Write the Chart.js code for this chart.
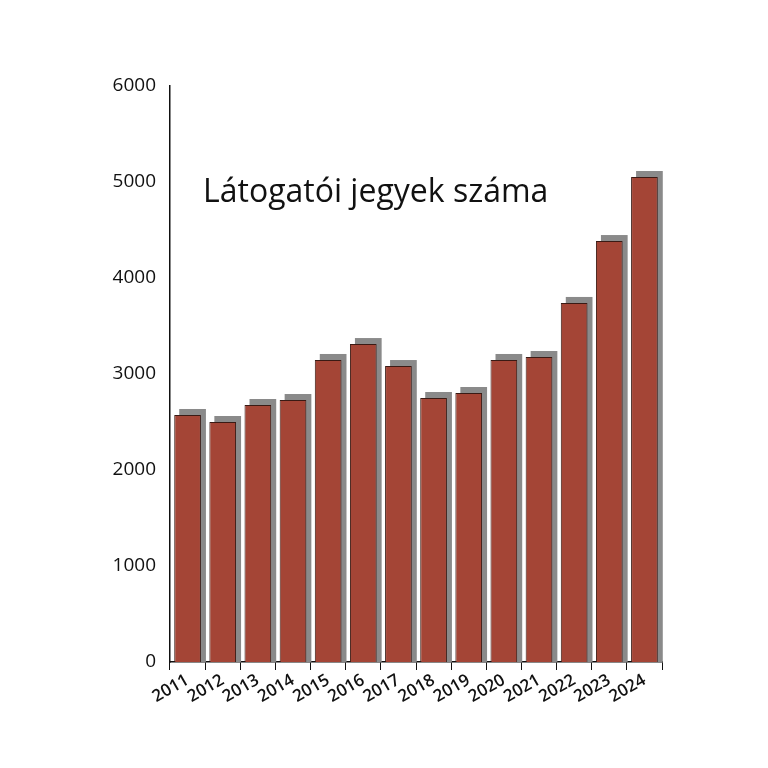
<!DOCTYPE html>
<html><head><meta charset="utf-8">
<script src="https://cdn.jsdelivr.net/npm/chart.js@4"></script>
<style>html,body{margin:0;background:#fff}#w{width:768px;height:768px}</style>
</head><body><div id="w"><canvas id="c"></canvas></div>
<script>
const years=["2011","2012","2013","2014","2015","2016","2017","2018","2019","2020","2021","2022","2023","2024"];
const tickets=[2573,2500,2677,2729,3146,3312,3083,2750,2802,3146,3177,3740,4385,5052];
const title="Látogatói jegyek száma";
const shadow={id:'shadow',
 beforeDatasetsDraw(c){const x=c.ctx;x.save();x.fillStyle='#8a8a8a';
  c.getDatasetMeta(0).data.forEach(b=>{const w=b.width;x.fillRect(b.x-w/2+5,b.y-6,w,b.base-(b.y-6));});x.restore();},
 afterDraw(c){const x=c.ctx;x.save();x.font='32px "Open Sans"';x.fillStyle='#111';x.textBaseline='middle';x.fillText(title,203,193);x.restore();}};
new Chart(document.getElementById('c'),{type:'bar',
 data:{labels:years,datasets:[{data:tickets,backgroundColor:'#a44536',borderColor:'#3a1a14',borderWidth:1,barPercentage:0.76,categoryPercentage:1}]},
 options:{responsive:true,maintainAspectRatio:false,animation:false,
  layout:{padding:{top:86,right:106,left:0,bottom:0}},
  plugins:{legend:{display:false},tooltip:{enabled:false}},
  scales:{
   y:{min:0,max:6000,ticks:{stepSize:1000,color:'#111',font:{family:'Open Sans',size:19},padding:6,callback:v=>String(v)},
      grid:{display:false,drawTicks:true,tickLength:8,tickColor:'#111'},border:{color:'#111',width:1.5},
      afterFit(s){s.width=170;}},
   x:{ticks:{color:'#111',font:{family:'Open Sans',size:17,weight:'600'},maxRotation:30,minRotation:30,padding:0,autoSkip:false},
      grid:{display:true,drawOnChartArea:false,tickLength:8,tickColor:'#111',offset:true},border:{color:'#111',width:1.5},
      afterFit(s){s.height=106;}}
  }},
 plugins:[shadow]});
</script></body></html>
